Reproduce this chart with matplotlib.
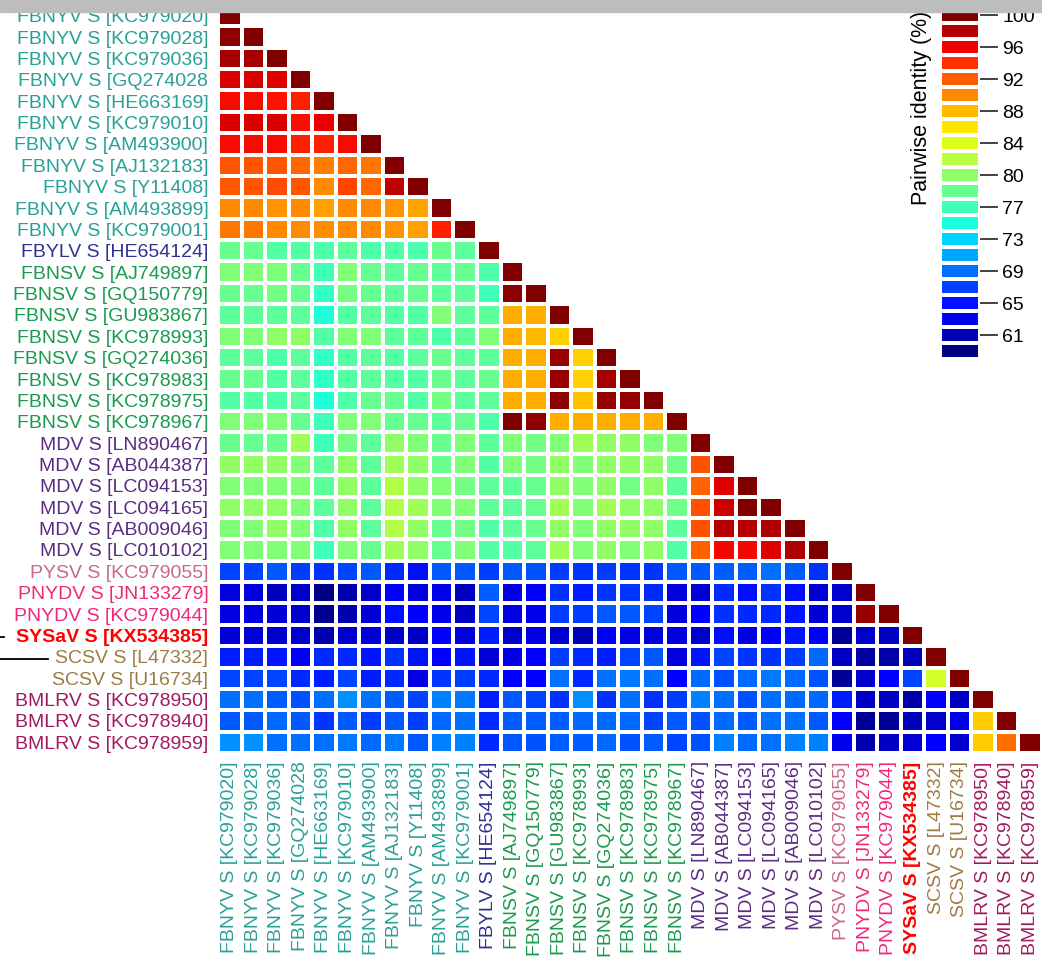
import matplotlib
matplotlib.use("Agg")
import matplotlib.pyplot as plt
import numpy as np
from matplotlib.colors import Normalize
from matplotlib.lines import Line2D
from matplotlib.patches import Rectangle

plt.rcParams["font.family"] = ["Liberation Sans", "DejaVu Sans"]

# sequence names, top to bottom (same order along the x axis)
labels = [
    "FBNYV S [KC979020]", "FBNYV S [KC979028]", "FBNYV S [KC979036]",
    "FBNYV S [GQ274028", "FBNYV S [HE663169]", "FBNYV S [KC979010]",
    "FBNYV S [AM493900]", "FBNYV S [AJ132183]", "FBNYV S [Y11408]",
    "FBNYV S [AM493899]", "FBNYV S [KC979001]", "FBYLV S [HE654124]",
    "FBNSV S [AJ749897]", "FBNSV S [GQ150779]", "FBNSV S [GU983867]",
    "FBNSV S [KC978993]", "FBNSV S [GQ274036]", "FBNSV S [KC978983]",
    "FBNSV S [KC978975]", "FBNSV S [KC978967]", "MDV S [LN890467]",
    "MDV S [AB044387]", "MDV S [LC094153]", "MDV S [LC094165]",
    "MDV S [AB009046]", "MDV S [LC010102]", "PYSV S [KC979055]",
    "PNYDV S [JN133279]", "PNYDV S [KC979044]", "SYSaV S [KX534385]",
    "SCSV S [L47332]", "SCSV S [U16734]", "BMLRV S [KC978950]",
    "BMLRV S [KC978940]", "BMLRV S [KC978959]",
]

group_colors = {
    "FBNYV": "#29a096", "FBYLV": "#2e3192", "FBNSV": "#199a4e",
    "MDV": "#5b2c83", "PYSV": "#c8688a", "PNYDV": "#f0287a",
    "SYSaV": "#ff0000", "SCSV": "#9e7b45", "BMLRV": "#a3185e",
}

# pairwise identity (%), lower triangle, row i holds columns 0..i-1
identity = [
    [],
    [99.5],
    [98.6, 98.6],
    [96.8, 96.8, 96.6],
    [95.8, 95.8, 95.4, 95.0],
    [96.8, 96.7, 96.7, 95.6, 96.3],
    [95.8, 95.8, 95.8, 95.0, 95.0, 95.8],
    [92.6, 92.6, 92.5, 91.7, 90.8, 91.8, 91.1],
    [92.4, 92.6, 93.0, 92.5, 90.3, 93.3, 91.7, 97.7],
    [90.4, 90.4, 89.9, 90.3, 89.4, 90.4, 90.4, 89.9, 89.0],
    [91.1, 91.1, 90.4, 90.4, 90.1, 90.4, 90.4, 89.9, 89.4, 95.0],
    [78.5, 78.5, 77.6, 77.6, 77.2, 78.0, 77.2, 77.3, 77.2, 78.5, 78.0],
    [79.7, 79.7, 79.6, 78.5, 76.6, 79.7, 78.5, 78.0, 78.5, 78.0, 78.5, 77.2],
    [78.5, 78.5, 79.1, 78.5, 75.9, 79.1, 78.5, 78.0, 78.5, 78.0, 78.0, 76.6, 99.4],
    [78.0, 78.0, 78.0, 78.0, 75.0, 77.6, 78.0, 77.6, 77.6, 79.7, 78.0, 78.0, 88.7, 88.7],
    [79.7, 79.7, 80.5, 80.5, 77.6, 79.7, 79.7, 78.0, 78.0, 77.2, 78.0, 79.7, 88.7, 88.3,
     87.3],
    [78.0, 78.0, 77.2, 78.0, 75.9, 77.6, 78.0, 77.6, 78.0, 78.5, 78.0, 78.0, 88.7, 88.7,
     98.9, 87.3],
    [78.5, 78.5, 77.6, 78.0, 75.8, 77.6, 78.0, 77.6, 77.6, 78.5, 78.0, 78.5, 88.7, 88.7,
     99.0, 87.3, 98.6],
    [77.6, 77.6, 77.2, 78.0, 75.0, 77.2, 78.5, 78.5, 77.6, 79.1, 78.0, 78.0, 88.7, 88.7,
     99.4, 88.0, 99.1, 99.1],
    [79.7, 79.7, 79.7, 78.5, 76.6, 79.7, 79.7, 78.5, 78.5, 78.0, 78.5, 77.2, 100.0, 99.4,
     88.7, 88.7, 88.7, 88.7, 88.7],
    [78.5, 78.5, 78.5, 81.3, 76.6, 79.1, 78.0, 80.5, 79.7, 78.5, 79.7, 78.0, 79.7, 79.1,
     79.7, 81.3, 80.5, 80.5, 79.7, 79.7],
    [80.5, 80.5, 80.5, 79.7, 78.0, 80.5, 78.0, 81.3, 80.5, 78.5, 79.7, 77.6, 79.7, 79.1,
     80.5, 79.7, 80.5, 80.5, 80.5, 79.0, 92.8],
    [79.7, 79.7, 79.7, 79.7, 78.0, 80.5, 78.0, 82.1, 80.5, 79.7, 79.1, 78.0, 78.0, 78.5,
     80.5, 79.7, 80.5, 79.1, 80.5, 78.0, 91.9, 96.6],
    [80.5, 80.5, 80.5, 79.7, 78.0, 80.5, 78.0, 82.1, 81.3, 79.7, 79.7, 78.0, 78.0, 78.5,
     81.3, 79.7, 81.3, 80.5, 80.5, 79.0, 92.8, 97.2, 100.0],
    [79.7, 79.7, 80.5, 79.7, 77.4, 80.5, 78.0, 82.1, 80.5, 78.5, 79.1, 77.4, 78.0, 78.5,
     80.5, 79.7, 80.5, 80.5, 80.5, 78.0, 92.8, 98.0, 98.0, 98.3],
    [79.7, 79.7, 79.7, 79.7, 76.6, 79.7, 78.5, 81.3, 80.5, 78.5, 79.7, 77.6, 77.6, 78.0,
     81.3, 79.7, 80.5, 79.7, 80.5, 77.4, 92.1, 96.0, 96.0, 96.6, 98.3],
    [67.0, 67.0, 67.7, 66.7, 66.1, 67.0, 67.7, 65.8, 64.8, 67.7, 67.7, 66.7, 67.7, 67.4,
     66.7, 66.4, 66.7, 66.4, 66.4, 67.7, 67.7, 68.0, 68.0, 68.7, 68.0, 66.1],
    [62.5, 62.5, 61.3, 61.9, 59.1, 60.8, 61.9, 63.8, 62.5, 63.0, 61.3, 68.0, 63.0, 63.4,
     66.1, 65.4, 66.4, 66.4, 65.8, 62.5, 62.2, 65.8, 64.8, 66.1, 64.8, 62.2, 61.9],
    [62.7, 62.7, 62.2, 61.9, 59.6, 60.8, 62.2, 64.8, 63.8, 63.0, 61.6, 67.0, 62.7, 63.0,
     66.7, 66.7, 67.7, 67.7, 67.0, 62.5, 63.8, 66.1, 65.8, 65.8, 65.1, 62.2, 61.9, 99.1],
    [62.2, 62.2, 61.9, 61.9, 60.8, 61.9, 62.2, 61.6, 61.6, 63.8, 62.5, 65.4, 61.9, 62.7,
     61.9, 61.1, 63.8, 62.7, 62.5, 62.5, 61.9, 64.8, 62.7, 63.8, 65.1, 63.8, 60.0, 61.9,
     61.6],
    [65.4, 65.4, 65.1, 63.8, 65.8, 65.8, 65.1, 66.1, 65.1, 63.8, 65.1, 62.2, 63.0, 63.8,
     66.7, 65.8, 65.4, 67.0, 67.7, 62.5, 65.1, 67.0, 66.4, 66.1, 66.7, 68.4, 61.6, 60.2,
     60.5, 61.3],
    [67.0, 67.0, 67.0, 65.8, 65.4, 67.0, 65.4, 65.8, 62.7, 66.4, 66.7, 65.8, 63.8, 63.8,
     68.7, 65.8, 68.7, 69.0, 68.7, 63.8, 68.4, 67.4, 68.4, 69.0, 68.4, 67.4, 59.9, 61.9,
     63.8, 67.0, 83.7],
    [68.7, 68.7, 68.0, 67.4, 68.7, 70.0, 68.7, 68.0, 67.0, 69.3, 69.0, 65.4, 67.7, 67.0,
     66.1, 70.0, 66.1, 68.7, 66.1, 66.7, 69.3, 68.7, 67.4, 68.7, 68.4, 68.4, 65.4, 61.6,
     61.6, 60.5, 63.8, 61.6],
    [67.7, 67.7, 68.4, 67.7, 66.4, 67.7, 66.7, 67.7, 66.7, 68.4, 68.7, 65.8, 68.0, 68.0,
     68.0, 68.4, 68.4, 68.4, 67.0, 67.7, 67.4, 68.4, 67.7, 68.7, 68.7, 67.7, 63.8, 60.0,
     59.9, 61.3, 61.9, 63.0, 87.5],
    [70.0, 70.0, 68.7, 68.7, 68.7, 69.0, 68.4, 69.0, 67.7, 69.3, 69.3, 65.8, 67.7, 67.4,
     68.0, 68.0, 68.4, 67.4, 68.0, 67.0, 67.4, 69.3, 68.4, 68.7, 69.3, 69.3, 63.0, 60.8,
     61.6, 62.2, 63.8, 61.9, 87.5, 91.4],
]

cbar_ticks = [61, 65, 69, 73, 77, 80, 84, 88, 92, 96, 100]
vmin, vmax = 59.05, 100.0
n_levels = 22

n = len(labels)
vals = np.full((n, n), np.nan)
for i, row in enumerate(identity):
    vals[i, :len(row)] = row
    vals[i, i] = 100.0
vals = np.ma.masked_invalid(vals)

cmap = plt.get_cmap("jet")
norm = Normalize(vmin=vmin, vmax=vmax)

W, H = 1042, 959
fig = plt.figure(figsize=(W / 100, H / 100), dpi=100)
fig.patches.append(Rectangle((0, 1 - 12 / H), 1, 12 / H, transform=fig.transFigure,
                             color="#bdbdbd", zorder=0))

ax = fig.add_axes([218 / W, 1 - 753 / H, 824 / W, 748 / H])
ax.set_facecolor("none")
ax.pcolormesh(np.arange(n + 1), np.arange(n + 1), vals, cmap=cmap, norm=norm,
              edgecolors="white", linewidth=1.6)
ax.set_xlim(0, n)
ax.set_ylim(n, 0)
for s in ax.spines.values():
    s.set_visible(False)

ax.set_yticks(np.arange(n) + 0.5)
ax.set_yticklabels(labels, fontsize=14)
ax.set_xticks(np.arange(n) + 0.5)
ax.set_xticklabels(labels, fontsize=14, rotation=90)
ax.tick_params(axis="both", length=0)
ax.tick_params(axis="y", pad=7)
ax.tick_params(axis="x", pad=6)
for tl in ax.get_yticklabels() + ax.get_xticklabels():
    grp = tl.get_text().split(" ")[0]
    tl.set_color(group_colors[grp])
    if grp == "SYSaV":
        tl.set_fontweight("bold")

# colour key
cax = fig.add_axes([940 / W, 1 - 359 / H, 40 / W, 352 / H])
levels = np.linspace(vmin, vmax, n_levels)
cax.pcolormesh([0, 1], np.arange(n_levels + 1), levels[:, None], cmap=cmap, norm=norm,
               edgecolors="white", linewidth=1.6)
cax.set_xlim(0, 1)
cax.set_ylim(0, n_levels)
for s in cax.spines.values():
    s.set_visible(False)
cax.set_xticks([])
tick_pos = [np.argmin(np.abs(levels - t)) + 0.5 for t in cbar_ticks]
cax.yaxis.tick_right()
cax.set_yticks(tick_pos)
cax.set_yticklabels([str(t) for t in cbar_ticks], fontsize=14)
cax.tick_params(axis="y", length=13, width=1.3, color="#333333", pad=3)
cax.text(-0.47, 0.713, "Pairwise identity (%)", transform=cax.transAxes,
         rotation=90, ha="center", va="center", fontsize=15.5)

# cut-off tree branches at the left edge
fig.add_artist(Line2D([0, 48 / W], [1 - 659 / H] * 2, color="black", lw=1.3))
fig.add_artist(Line2D([0, 4 / W], [1 - 637 / H] * 2, color="black", lw=1.3))

fig.savefig("out.png", dpi=100)
